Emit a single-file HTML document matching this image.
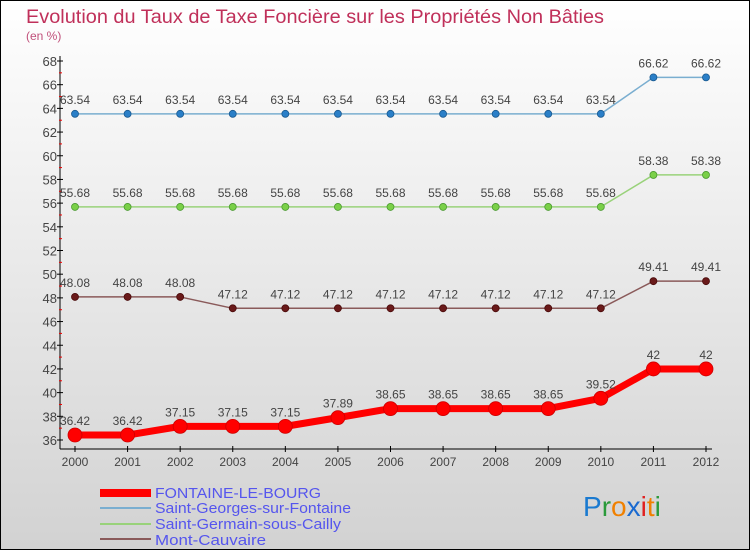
<!DOCTYPE html>
<html><head><meta charset="utf-8"><style>
html,body{margin:0;padding:0}
body{width:750px;height:550px;overflow:hidden;font-family:"Liberation Sans",sans-serif}
</style></head><body>
<svg width="750" height="550" xmlns="http://www.w3.org/2000/svg" font-family="Liberation Sans, sans-serif">
<defs><linearGradient id="bg" x1="0" y1="0" x2="0" y2="1"><stop offset="0" stop-color="#ffffff"/><stop offset="1" stop-color="#d2d2d2"/></linearGradient></defs>
<rect x="0.5" y="0.5" width="749" height="549" fill="url(#bg)" stroke="#000"/>
<text x="26" y="23" font-size="19" fill="#c0305a" textLength="578" lengthAdjust="spacingAndGlyphs">Evolution du Taux de Taxe Foncière sur les Propriétés Non Bâties</text>
<text x="26" y="40" font-size="12" fill="#c0507a">(en %)</text>
<g id="axes"></g>
<g id="series"></g>
<g font-size="15" fill="#5555ee">
<rect x="100" y="489" width="51" height="8" fill="#f00"/>
<text x="155" y="498" textLength="166" lengthAdjust="spacingAndGlyphs">FONTAINE-LE-BOURG</text>
<rect x="100" y="507" width="51" height="2" fill="#7aaed0"/>
<text x="155" y="513" textLength="196" lengthAdjust="spacingAndGlyphs">Saint-Georges-sur-Fontaine</text>
<rect x="100" y="523" width="51" height="2" fill="#99d27a"/>
<text x="155" y="529" textLength="186" lengthAdjust="spacingAndGlyphs">Saint-Germain-sous-Cailly</text>
<rect x="100" y="538" width="51" height="2" fill="#8a5a5a"/>
<text x="155" y="545" textLength="111" lengthAdjust="spacingAndGlyphs">Mont-Cauvaire</text>
</g>
<g font-size="28">
<text x="583" y="516"><tspan fill="#1a7ad0">P</tspan><tspan fill="#2a9a3a">r</tspan><tspan fill="#f08000">o</tspan><tspan fill="#1a6ad0">x</tspan><tspan fill="#e02020">i</tspan><tspan fill="#f08000">t</tspan><tspan fill="#2a9a3a">i</tspan></text>
</g>
</svg>
<script>
const years=[2000,2001,2002,2003,2004,2005,2006,2007,2008,2009,2010,2011,2012];
const yTicks=[36,38,40,42,44,46,48,50,52,54,56,58,60,62,64,66,68];
const fontaine=[36.42,36.42,37.15,37.15,37.15,37.89,38.65,38.65,38.65,38.65,39.52,42,42];
const stGeorges=[63.54,63.54,63.54,63.54,63.54,63.54,63.54,63.54,63.54,63.54,63.54,66.62,66.62];
const stGermain=[55.68,55.68,55.68,55.68,55.68,55.68,55.68,55.68,55.68,55.68,55.68,58.38,58.38];
const montCauvaire=[48.08,48.08,48.08,47.12,47.12,47.12,47.12,47.12,47.12,47.12,47.12,49.41,49.41];
const NS="http://www.w3.org/2000/svg";
const x=i=>75+i*(706-75)/(years.length-1);
const y=v=>440-(v-36)*(440-61)/32;
function mk(t,a,p){const e=document.createElementNS(NS,t);for(const k in a)e.setAttribute(k,a[k]);p.appendChild(e);return e;}
const ax=document.getElementById('axes');
let l=mk('line',{x1:60,y1:56,x2:60,y2:449,stroke:'#000'},ax);


l=mk('line',{x1:60,y1:449,x2:712,y2:449,stroke:'#000'},ax);


yTicks.forEach((v,i)=>{
 mk('line',{x1:57,y1:y(v),x2:63,y2:y(v),stroke:'#000'},ax);
 if(i<yTicks.length-1)mk('line',{x1:59,y1:y(v+1),x2:62,y2:y(v+1),stroke:'#e00'},ax);
 const t=mk('text',{x:57,y:y(v)+5,'font-size':13,fill:'#444','text-anchor':'end'},ax);t.textContent=v;
 
 
});
years.forEach((yr,i)=>{
 mk('line',{x1:x(i),y1:446,x2:x(i),y2:452,stroke:'#000'},ax);
 const t=mk('text',{x:x(i),y:466,'font-size':12,fill:'#444','text-anchor':'middle'},ax);t.textContent=yr;
 
 
});
const sg=document.getElementById('series');
function series(data,color,w,r,name,dot,lab){
 const g=mk('g',{},sg);
 
 
 mk('polyline',{points:data.map((v,i)=>x(i)+','+y(v)).join(' '),fill:'none',stroke:color,'stroke-width':w,'stroke-linejoin':'round'},g);
 data.forEach((v,i)=>{
  const c=mk('circle',{cx:x(i),cy:y(v),r:r,fill:dot,stroke:lab,'stroke-width':0.8},g);
  
  
  const t=mk('text',{x:x(i),y:y(v)-10,'font-size':12,fill:'#444','text-anchor':'middle'},g);t.textContent=v;
  
  
 });
}
series(stGeorges,'#7aaed0',1.5,3.5,'series-saint-georges','#2a7fc8','#1a5a90');
series(stGermain,'#99d27a',1.5,3.5,'series-saint-germain','#7ad048','#4a9a30');
series(montCauvaire,'#8a5a5a',1.5,3.5,'series-mont-cauvaire','#6a1a1a','#4a0a0a');
series(fontaine,'#f00',7,7,'series-fontaine','#f00','#c00');
</script>
</body></html>
